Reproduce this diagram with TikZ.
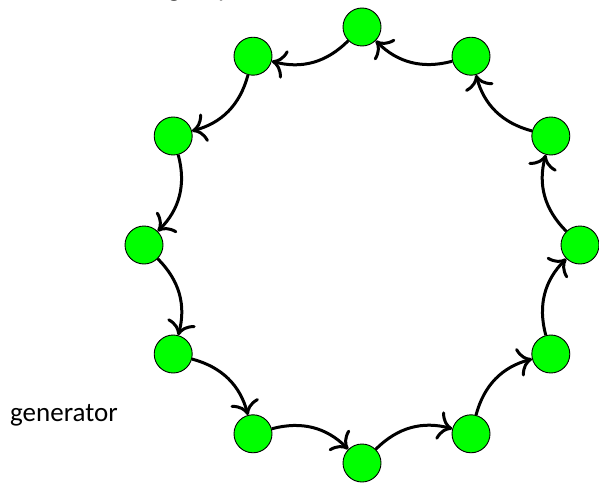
\documentclass[tikz,border=0pt]{standalone}
\usepackage{fontspec}
\setmainfont{Carlito}
\usetikzlibrary{positioning,arrows.meta}

\begin{document}
\begin{tikzpicture}[x=1pt,y=1pt,
    vertex/.style={circle,draw,line width=0.9pt,fill=green,minimum size=38pt,inner sep=0pt},
    arc/.style={-{To[scale=1.7]},line width=3pt,bend left=30},
    lbl/.style={anchor=base west,inner sep=0pt,font=\fontsize{27}{32}\selectfont}]
    \useasboundingbox (0,0) rectangle (599,483);
    \node [lbl] (title) at (4,486) {// the additive group};
    \node [lbl] (gen) at (10,62) {generator};
    \begin{scope}[shift={(362,238)}]
      \foreach \i in {0,...,11}
        \node [vertex] (v\i) at (90+30*\i:218) {};
    \end{scope}
    \foreach \i [evaluate=\i as \j using {int(mod(\i+1,12))}] in {0,...,11}
      \draw [arc] (v\i) to (v\j);
  \end{tikzpicture}
\end{document}
